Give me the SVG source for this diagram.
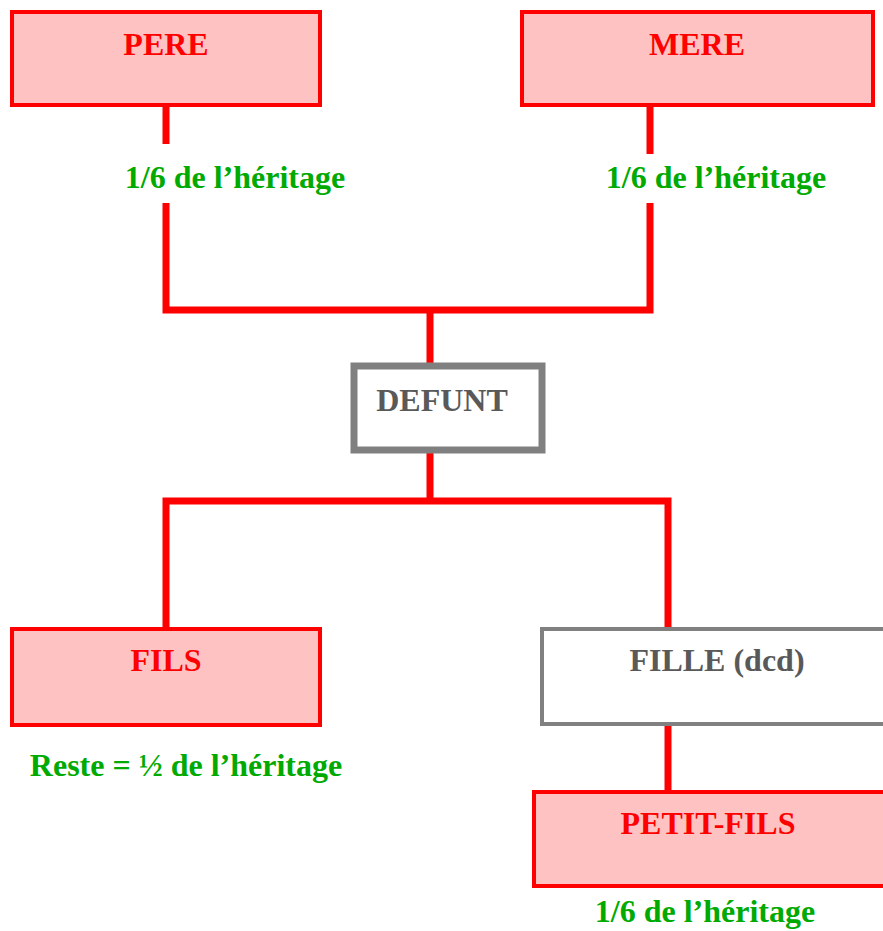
<svg xmlns="http://www.w3.org/2000/svg" width="883" height="931" viewBox="0 0 883 931">
<style>
.box{fill:#FFC2C2;stroke:#FF0000;stroke-width:4}
.dead{fill:#FFFFFF;stroke:#808080}
.t{font-family:"Liberation Serif","Times New Roman",serif;font-weight:bold;font-size:32px;text-anchor:middle}
.red{fill:#FF0000}
.gray{fill:#595959}
.green{fill:#00AA00}
.ln{stroke:#FF0000;stroke-width:7;fill:none}
</style>
<rect width="883" height="931" fill="#FFFFFF"/>
<g id="connectors">
<line class="ln" x1="166" y1="105" x2="166" y2="144"/>
<path class="ln" d="M166 203 V310 H650 V203"/>
<line class="ln" x1="650" y1="105" x2="650" y2="154"/>
<line class="ln" x1="430" y1="310" x2="430" y2="366"/>
<line class="ln" x1="430" y1="453" x2="430" y2="501"/>
<path class="ln" d="M166 628 V501 H668 V628"/>
<line class="ln" x1="668" y1="725" x2="668" y2="790"/>
</g>
<g id="pere">
<rect class="box" x="12" y="12" width="308" height="93"/>
<text class="t red" x="166" y="55">PERE</text>
</g>
<text class="t green" x="235" y="188">1/6 de l’héritage</text>
<g id="mere">
<rect class="box" x="522" y="12" width="351" height="93"/>
<text class="t red" x="697" y="55">MERE</text>
</g>
<text class="t green" x="716" y="188">1/6 de l’héritage</text>
<g id="defunt">
<rect class="dead" x="354" y="366" width="188" height="84" stroke-width="7"/>
<text class="t gray" x="442" y="411">DEFUNT</text>
</g>
<g id="fils">
<rect class="box" x="12" y="629" width="308" height="96"/>
<text class="t red" x="166" y="671">FILS</text>
</g>
<text class="t green" x="186" y="776">Reste = ½ de l’héritage</text>
<g id="fille">
<rect class="dead" x="542" y="629" width="350" height="95" stroke-width="4"/>
<text class="t gray" x="717" y="671">FILLE (dcd)</text>
</g>
<g id="petitfils">
<rect class="box" x="534" y="792" width="358" height="94"/>
<text class="t red" x="708" y="834">PETIT-FILS</text>
</g>
<text class="t green" x="705" y="922">1/6 de l’héritage</text>
</svg>
